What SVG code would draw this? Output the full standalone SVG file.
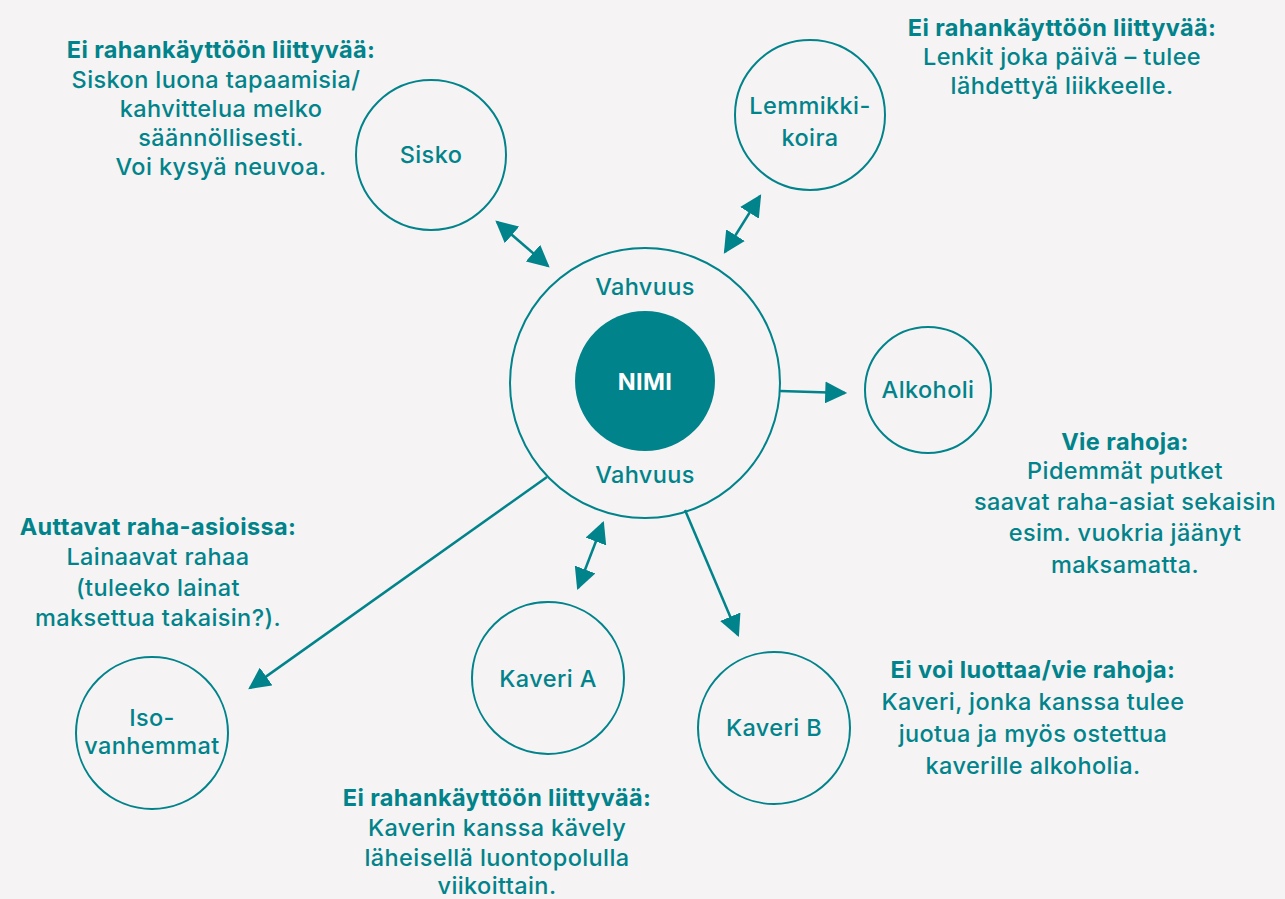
<svg xmlns="http://www.w3.org/2000/svg" width="1285" height="899" viewBox="0 0 1285 899">
<style>
.t{font-family:Inter,"Noto Sans","Liberation Sans",sans-serif;font-size:23.5px;font-weight:500;letter-spacing:0.4px;fill:#00838a;text-anchor:middle}
.b{font-weight:bold}
.n{fill:none;stroke:#00838a;stroke-width:2}
.c{stroke:#00838a;stroke-width:2.5;fill:none}
</style>
<defs>
<marker id="a" viewBox="0 0 10 10" refX="9" refY="5" markerWidth="22" markerHeight="22" markerUnits="userSpaceOnUse" orient="auto-start-reverse"><path d="M0,0L10,5L0,10z" fill="#00838a"/></marker>
</defs>
<rect width="1285" height="899" fill="#f5f3f4"/>
<g id="connectors">
<line class="c" x1="497" y1="222" x2="548" y2="266" marker-start="url(#a)" marker-end="url(#a)"/>
<line class="c" x1="760" y1="196" x2="725" y2="252" marker-start="url(#a)" marker-end="url(#a)"/>
<line class="c" x1="780" y1="391" x2="845" y2="393" marker-end="url(#a)"/>
<line class="c" x1="547" y1="477" x2="250" y2="688" marker-end="url(#a)"/>
<line class="c" x1="603" y1="523" x2="578" y2="588" marker-start="url(#a)" marker-end="url(#a)"/>
<line class="c" x1="685" y1="510" x2="738" y2="635" marker-end="url(#a)"/>
</g>
<g id="center">
<circle class="n" cx="645" cy="383" r="135"/>
<text class="t" x="645" y="295">Vahvuus</text>
<text class="t" x="645" y="483">Vahvuus</text>
</g>
<g id="nimi">
<circle cx="645" cy="381" r="70" fill="#00838a"/>
<text class="t b" x="645" y="390" style="fill:#fff">NIMI</text>
</g>
<g id="sisko">
<circle class="n" cx="431" cy="155" r="75"/>
<text class="t" x="431" y="163">Sisko</text>
</g>
<g id="lemmikki">
<circle class="n" cx="810" cy="115" r="75"/>
<text class="t" x="810" y="114">Lemmikki-</text>
<text class="t" x="810" y="146">koira</text>
</g>
<g id="alkoholi">
<circle class="n" cx="928" cy="390" r="63"/>
<text class="t" x="928" y="398">Alkoholi</text>
</g>
<g id="kaveri-a">
<circle class="n" cx="548" cy="678" r="76"/>
<text class="t" x="548" y="687">Kaveri A</text>
</g>
<g id="kaveri-b">
<circle class="n" cx="774" cy="728" r="76"/>
<text class="t" x="774" y="736">Kaveri B</text>
</g>
<g id="isovanhemmat">
<circle class="n" cx="152" cy="733" r="76"/>
<text class="t" x="152" y="726">Iso-</text>
<text class="t" x="152" y="754">vanhemmat</text>
</g>
<g id="note-sisko">
<text class="t b" x="221" y="58">Ei rahankäyttöön liittyvää:</text>
<text class="t" x="216" y="88">Siskon luona tapaamisia/</text>
<text class="t" x="221" y="117">kahvittelua melko</text>
<text class="t" x="221" y="146">säännöllisesti.</text>
<text class="t" x="221" y="175">Voi kysyä neuvoa.</text>
</g>
<g id="note-lemmikki">
<text class="t b" x="1062" y="36">Ei rahankäyttöön liittyvää:</text>
<text class="t" x="1062" y="65">Lenkit joka päivä – tulee</text>
<text class="t" x="1062" y="94">lähdettyä liikkeelle.</text>
</g>
<g id="note-alkoholi">
<text class="t b" x="1125" y="450">Vie rahoja:</text>
<text class="t" x="1125" y="479">Pidemmät putket</text>
<text class="t" x="1125" y="510">saavat raha-asiat sekaisin</text>
<text class="t" x="1125" y="541">esim. vuokria jäänyt</text>
<text class="t" x="1125" y="573">maksamatta.</text>
</g>
<g id="note-iso">
<text class="t b" x="158" y="535">Auttavat raha-asioissa:</text>
<text class="t" x="158" y="565">Lainaavat rahaa</text>
<text class="t" x="158" y="596">(tuleeko lainat</text>
<text class="t" x="158" y="626">maksettua takaisin?).</text>
</g>
<g id="note-kaveri-b">
<text class="t b" x="1033" y="678">Ei voi luottaa/vie rahoja:</text>
<text class="t" x="1033" y="710">Kaveri, jonka kanssa tulee</text>
<text class="t" x="1033" y="742">juotua ja myös ostettua</text>
<text class="t" x="1033" y="774">kaverille alkoholia.</text>
</g>
<g id="note-kaveri-a">
<text class="t b" x="497" y="806">Ei rahankäyttöön liittyvää:</text>
<text class="t" x="497" y="836">Kaverin kanssa kävely</text>
<text class="t" x="497" y="866">läheisellä luontopolulla</text>
<text class="t" x="497" y="894">viikoittain.</text>
</g>
</svg>
